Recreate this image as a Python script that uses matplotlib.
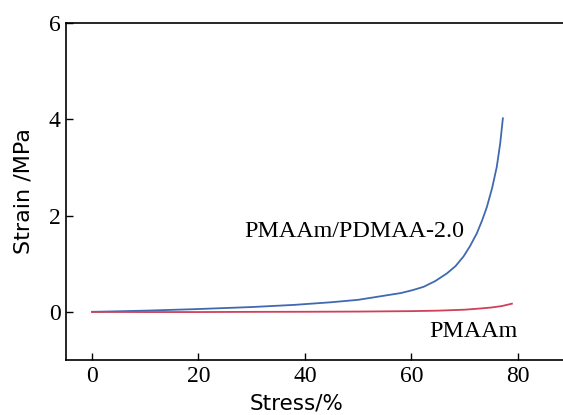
import numpy as np
import matplotlib.pyplot as plt

# stress (%) vs strain (MPa)
blue_x = [0, 5, 10, 19, 30, 38, 45, 50, 54, 58, 60.2, 62.3, 64.5, 66.7, 68.3,
          69.8, 71, 72.3, 73.3, 74.2, 75.2, 76.05, 76.7, 77.2]
blue_y = [0, 0.012, 0.025, 0.055, 0.1, 0.145, 0.2, 0.25, 0.32, 0.39, 0.45, 0.52,
          0.64, 0.80, 0.95, 1.15, 1.36, 1.63, 1.9, 2.18, 2.58, 3.01, 3.5, 4.02]

red_x = [0, 10, 20, 30, 40, 50, 60, 65, 70, 73, 75, 77, 78.9]
red_y = [0, -0.004, -0.004, 0, 0.002, 0.006, 0.015, 0.025, 0.045, 0.07, 0.09, 0.12, 0.17]

xticks = [0, 20, 40, 60, 80]
yticks = [0, 2, 4, 6]

serif = 'Liberation Serif'

fig = plt.figure(figsize=(5.63, 4.15), dpi=100)
ax = fig.add_axes([66 / 563, 55 / 415, 1 - 66 / 563, 337 / 415])

ax.plot(blue_x, blue_y, color='#4169b0', lw=1.3)
ax.plot(red_x, red_y, color='#d0405a', lw=1.3)

ax.set_xlim(-4.9, 88.5)
ax.set_ylim(-1, 6)
ax.set_xticks(xticks)
ax.set_yticks(yticks)
ax.tick_params(direction='in', length=5, width=1, labelsize=17, pad=4)
for lab in ax.get_xticklabels() + ax.get_yticklabels():
    lab.set_family(serif)

ax.spines['right'].set_visible(False)
for s in ['left', 'bottom', 'top']:
    ax.spines[s].set_linewidth(1.2)

ax.set_xlabel('Stress/%', fontsize=15.5, labelpad=5)
ax.xaxis.label.set_x(0.463)
ax.set_ylabel('Strain /MPa', fontsize=16, labelpad=11)

ax.text(49.2, 1.67, 'PMAAm/PDMAA-2.0', family=serif, fontsize=17.3, ha='center', va='center')
ax.text(71.7, -0.41, 'PMAAm', family=serif, fontsize=17.3, ha='center', va='center')

fig.savefig('out.png', dpi=100)
